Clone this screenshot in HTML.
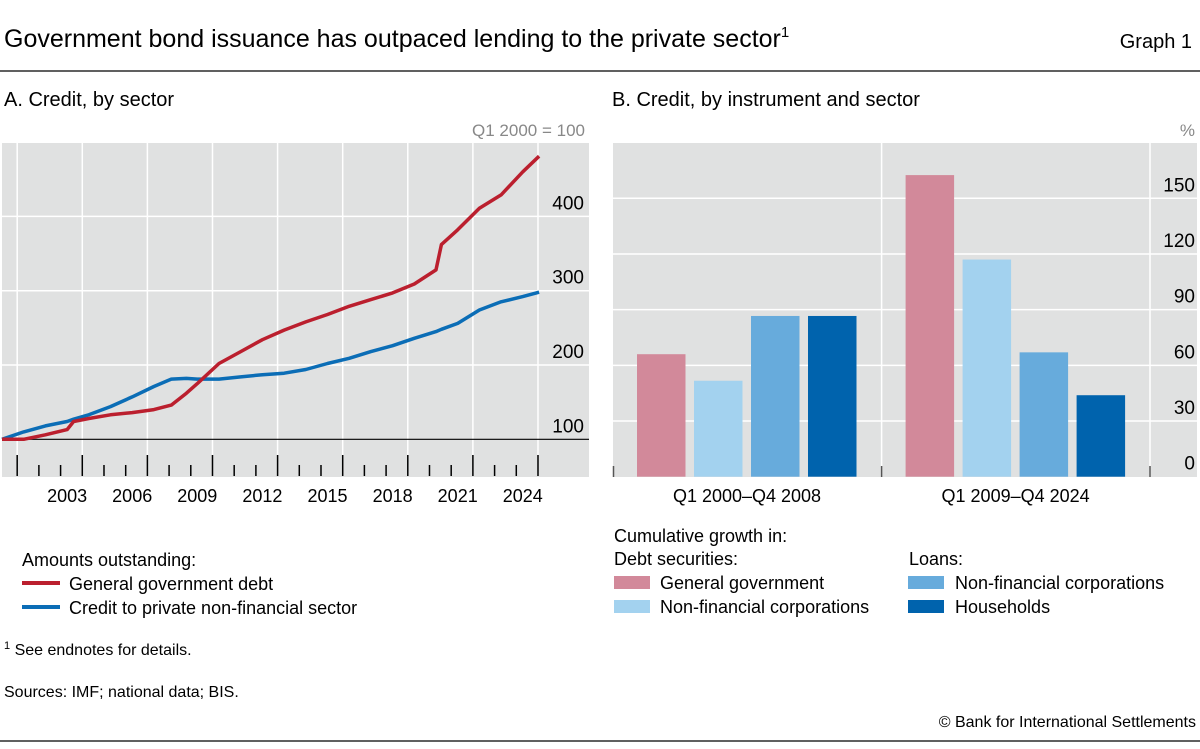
<!DOCTYPE html>
<html><head><meta charset="utf-8"><style>
body{margin:0;background:#fff;width:1200px;height:744px;overflow:hidden;font-family:"Liberation Sans",sans-serif;color:#000}
svg text{font-family:"Liberation Sans",sans-serif}
</style></head><body>
<svg id="chart" width="1200" height="744" xmlns="http://www.w3.org/2000/svg">
<text x="4" y="47" font-size="25">Government bond issuance has outpaced lending to the private sector<tspan font-size="15" dy="-10">1</tspan></text>
<text x="1192" y="48" font-size="20" text-anchor="end">Graph 1</text>
<line x1="0" y1="71" x2="1200" y2="71" stroke="#000" stroke-width="1.2"/>
<text x="4" y="106" font-size="20">A. Credit, by sector</text>
<text x="612" y="106" font-size="20">B. Credit, by instrument and sector</text>
<text x="585" y="136" font-size="17" fill="#888" text-anchor="end">Q1 2000 = 100</text>
<text x="1195" y="136" font-size="17" fill="#888" text-anchor="end">%</text>
<rect x="2" y="143" width="587" height="334" fill="#e0e1e1"/>
<rect x="613" y="143" width="584" height="334" fill="#e0e1e1"/>
<g id="ga"></g><g id="gb"></g>
<g>
<text x="22" y="566" font-size="18">Amounts outstanding:</text>
<line x1="22" y1="583" x2="60" y2="583" stroke="#bb1f2e" stroke-width="4"/>
<text x="69" y="590" font-size="18">General government debt</text>
<line x1="22" y1="607" x2="60" y2="607" stroke="#0b6db6" stroke-width="4"/>
<text x="69" y="614" font-size="18">Credit to private non-financial sector</text>
</g>
<g>
<text x="614" y="542" font-size="18">Cumulative growth in:</text>
<text x="614" y="565" font-size="18">Debt securities:</text>
<text x="909" y="565" font-size="18">Loans:</text>
<rect x="614" y="576" width="36" height="13" fill="#d2899a"/>
<text x="660" y="589" font-size="18">General government</text>
<rect x="614" y="600" width="36" height="13" fill="#a3d2ef"/>
<text x="660" y="613" font-size="18">Non-financial corporations</text>
<rect x="908" y="576" width="36" height="13" fill="#67abdc"/>
<text x="955" y="589" font-size="18">Non-financial corporations</text>
<rect x="908" y="600" width="36" height="13" fill="#0063ad"/>
<text x="955" y="613" font-size="18">Households</text>
</g>
<text x="4" y="655" font-size="16"><tspan font-size="11" dy="-6">1</tspan><tspan dy="6">  See endnotes for details.</tspan></text>
<text x="4" y="697" font-size="16">Sources: IMF; national data; BIS.</text>
<text x="1196" y="727" font-size="16" text-anchor="end">© Bank for International Settlements</text>
<line x1="0" y1="741" x2="1200" y2="741" stroke="#000" stroke-width="1.2"/>
</svg>
<script>
const NS="http://www.w3.org/2000/svg";
// Panel A data
const years=[2000,2001,2002,2003,2003.3,2004,2005,2006,2007,2007.8,2008.5,2009,2010,2011,2012,2013,2014,2015,2016,2017,2018,2019,2020,2020.25,2021,2022,2023,2024,2024.75];
const govtDebt=[100,100,106,113,124,128,133,136,140,146,162,175,202,218,234,247,258,268,279,288,297,309,328,362,382,411,429,460,481];
const privateCredit=[100,110,118,124,127,133,144,157,171,181,182,181,181,184,187,189,194,202,209,218,226,236,245,248,256,274,285,292,298];
const aTicks=[100,200,300,400];
const aYearLabels=[2003,2006,2009,2012,2015,2018,2021,2024];
// Panel B data
const periods=["Q1 2000–Q4 2008","Q1 2009–Q4 2024"];
const ggDebt=[66,162.5];
const nfcDebt=[51.7,117];
const nfcLoans=[86.6,67];
const hhLoans=[86.6,43.9];
const bTicks=[0,30,60,90,120,150];

function el(tag,attrs,parent){const e=document.createElementNS(NS,tag);for(const k in attrs)e.setAttribute(k,attrs[k]);parent.appendChild(e);return e;}
const ga=document.getElementById('ga'),gb=document.getElementById('gb');
const xA=t=>2+(t-2000)*21.7;
const yA=v=>439.3-(v-100)*0.743;
for(let y=2000;y<=2024;y+=3){const l=el('line',{x1:xA(y+0.7),x2:xA(y+0.7),y1:143,y2:455,stroke:'#fff','stroke-width':1.5},ga);
}
aTicks.forEach(v=>{if(v>100){const l=el('line',{x1:2,x2:589,y1:yA(v),y2:yA(v),stroke:'#fff','stroke-width':1.5},ga);
}
const t=el('text',{x:584,y:yA(v)-7,'font-size':19,'text-anchor':'end'},ga);t.textContent=v;
});
const base=el('line',{x1:2,x2:589,y1:yA(100),y2:yA(100),stroke:'#000','stroke-width':1.2},ga);

for(let y=2000;y<=2024;y++){const maj=(y-2000)%3===0;const l=el('line',{x1:xA(y+0.7),x2:xA(y+0.7),y1:maj?455:465,y2:476,stroke:'#000','stroke-width':1.5},ga);
}
aYearLabels.forEach(y=>{const t=el('text',{x:xA(y),y:502,'font-size':18,'text-anchor':'middle'},ga);t.textContent=y;
});
function line(vals,color,name){const d=vals.map((v,i)=>(i?'L':'M')+xA(years[i]).toFixed(1)+','+yA(v).toFixed(1)).join('');
const p=el('path',{d:d,fill:'none',stroke:color,'stroke-width':3.5,'stroke-linejoin':'round'},ga);
}
line(privateCredit,'#0b6db6','private-credit-line');
line(govtDebt,'#bb1f2e','govt-debt-line');
// Panel B
const yB=v=>476.7-v*1.856;
bTicks.forEach(v=>{if(v>0){const l=el('line',{x1:613,x2:1197,y1:yB(v),y2:yB(v),stroke:'#fff','stroke-width':1.5},gb);
}
const t=el('text',{x:1195,y:yB(v)-7,'font-size':19,'text-anchor':'end'},gb);t.textContent=v;
});
[881.6,1150].forEach(x=>{const l=el('line',{x1:x,x2:x,y1:143,y2:477,stroke:'#fff','stroke-width':1.5},gb);
});
[613.5,881.6,1150].forEach(x=>{const l=el('line',{x1:x,x2:x,y1:466,y2:477,stroke:'#555','stroke-width':1.5},gb);
});
const series=[[ggDebt,'#d2899a','bar-gg'],[nfcDebt,'#a3d2ef','bar-nfc-debt'],[nfcLoans,'#67abdc','bar-nfc-loans'],[hhLoans,'#0063ad','bar-households']];
periods.forEach((p,g)=>{const g0=613+g*268.6;
series.forEach((s,i)=>{const x=g0+24+i*57;const v=s[0][g];
const r=el('rect',{x:x,y:yB(v),width:48.5,height:476.7-yB(v),fill:s[1]},gb);
});
const t=el('text',{x:g0+134,y:502,'font-size':18,'text-anchor':'middle'},gb);t.textContent=p;
});
</script>
</body></html>
